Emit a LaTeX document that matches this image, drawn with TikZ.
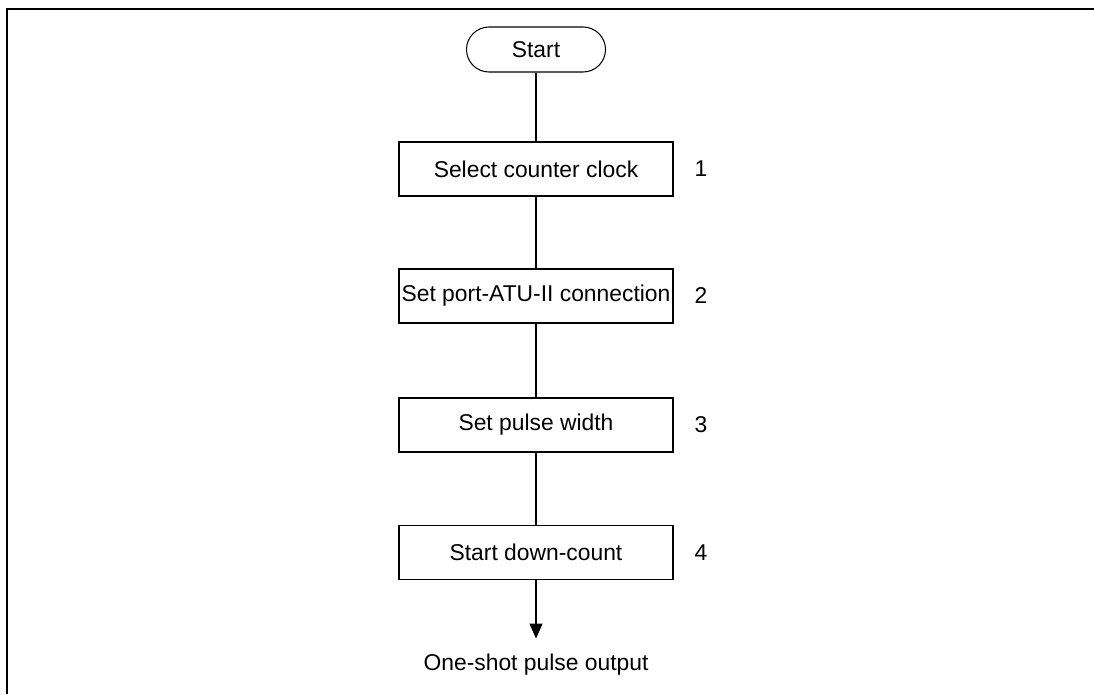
\documentclass[tikz,border=0pt]{standalone}
\usepackage{fontspec}
\setmainfont{Liberation Sans}
\usepackage{tikz}
\usetikzlibrary{positioning, arrows.meta}

\begin{document}
\begin{tikzpicture}[
    every node/.style={font=\fontsize{13}{15}\selectfont},
    stepbox/.style={draw, line width=0.6pt, minimum width=5.48cm, minimum height=1.08cm, inner sep=0pt},
    termbox/.style={draw, line width=0.6pt, rounded corners=0.45cm, minimum width=2.78cm, minimum height=0.9cm, inner sep=0pt},
    flow/.style={line width=0.6pt}
  ]
  \useasboundingbox (0,0) rectangle (21.88,-13.88);

  % Frame
  \draw[line width=1.7pt] (0.14,-13.88) -- (0.14,-0.18) -- (21.88,-0.18);

  % Nodes
  \node[termbox] (start) at (10.72,-0.99) {Start};
  \node[stepbox] (clock) at (10.72,-3.38) {Select counter clock};
  \node[stepbox] (port) at (10.72,-5.92) {Set port-ATU-II connection};
  \node[stepbox] (width) at (10.72,-8.5) {Set pulse width};
  \node[stepbox] (count) at (10.72,-11.05) {Start down-count};
  \node (output) at (10.72,-13.3) {One-shot pulse output};

  % Step numbers
  \node at (14.02,-3.38) {1};
  \node at (14.02,-5.92) {2};
  \node at (14.02,-8.5) {3};
  \node at (14.02,-11.05) {4};

  % Connectors
  \draw[flow] (start) -- (clock);
  \draw[flow] (clock) -- (port);
  \draw[flow] (port) -- (width);
  \draw[flow] (width) -- (count);
  \draw[flow, -{Triangle[width=0.26cm, length=0.3cm]}] (count.south) -- ++(0,-1.17) coordinate (tip);
\end{tikzpicture}
\end{document}
